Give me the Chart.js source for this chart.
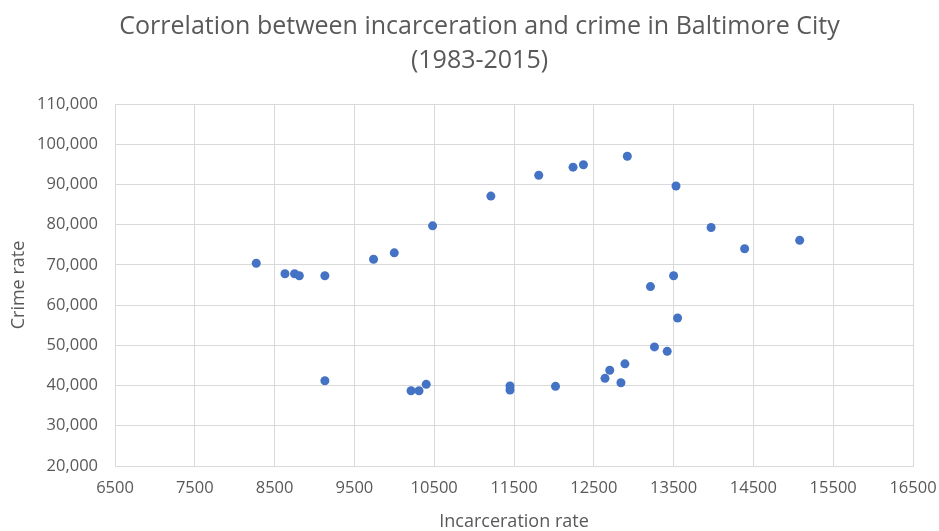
<!DOCTYPE html>
<html>
<head>
<meta charset="utf-8">
<script src="https://cdn.jsdelivr.net/npm/chart.js@4"></script>
<style>
  html, body { margin: 0; padding: 0; background: #ffffff; }
  #wrap { width: 939px; height: 531px; }
</style>
</head>
<body>
<div id="wrap"><canvas id="c" width="939" height="531"></canvas></div>
<script>
// Baltimore City, 1983-2015: incarceration rate vs. crime rate
const incarcerationRate = [
  8270, 8630, 8750, 8810, 9130, 9740, 10000, 10480, 11210, 11810, 12240,
  12370, 12920, 13530, 13970, 14390, 15080, 13500, 13210, 13550, 13260,
  13420, 12890, 12840, 12700, 12640, 9130, 10210, 10310, 10400, 11450,
  11450, 12020
];
const crimeRate = [
  70400, 67800, 67800, 67300, 67300, 71400, 73000, 79700, 87100, 92300, 94300,
  94900, 97000, 89600, 79300, 74000, 76100, 67300, 64600, 56800, 49600,
  48500, 45400, 40700, 43800, 41800, 41200, 38700, 38700, 40300, 39900,
  38900, 39800
];

const titleLines = ['Correlation between incarceration and crime in Baltimore City', '(1983-2015)'];
const xAxisTitle = 'Incarceration rate';
const yAxisTitle = 'Crime rate';
const xTicks = { min: 6500, max: 16500, step: 1000 };
const yTicks = { min: 20000, max: 110000, step: 10000 };

const points = incarcerationRate.map((x, i) => ({ x: x, y: crimeRate[i] }));

const textColor = '#595959';
const gridColor = '#d9d9d9';
const family = "'Open Sans', 'Liberation Sans', sans-serif";

// Nudge the title block to the right so it sits over the plot area
const titleShift = {
  id: 'titleShift',
  afterLayout(chart) {
    const t = chart.titleBlock;
    if (t) { t.left += 23; t.right += 23; }
  }
};

new Chart(document.getElementById('c'), {
  type: 'scatter',
  data: {
    datasets: [{
      data: points,
      backgroundColor: '#4472C4',
      borderColor: '#4472C4',
      pointRadius: 4.5,
      pointHoverRadius: 4.5,
      borderWidth: 0
    }]
  },
  plugins: [titleShift],
  options: {
    responsive: false,
    animation: false,
    layout: { padding: { top: 0, right: 26, bottom: 0, left: 0 } },
    plugins: {
      legend: { display: false },
      tooltip: { enabled: false },
      title: {
        display: true,
        text: titleLines,
        color: textColor,
        font: { family: family, size: 25, weight: 'normal', lineHeight: '34px' },
        padding: { top: 10, bottom: 26 }
      }
    },
    scales: {
      x: {
        type: 'linear',
        min: xTicks.min,
        max: xTicks.max,
        afterFit: (s) => { s.height = 65; s.paddingRight = 0; s.paddingLeft = 0; },
        ticks: {
          stepSize: xTicks.step,
          color: textColor,
          font: { family: family, size: 16.5 },
          padding: 12,
          maxRotation: 0,
          callback: (v) => String(v)
        },
        grid: { color: gridColor, lineWidth: 1, drawTicks: false },
        border: { color: gridColor },
        title: {
          display: true,
          text: xAxisTitle,
          color: textColor,
          font: { family: family, size: 18, lineHeight: '18px' },
          padding: { top: 0, bottom: 0 }
        }
      },
      y: {
        type: 'linear',
        min: yTicks.min,
        max: yTicks.max,
        afterFit: (s) => { s.width = 115; },
        ticks: {
          stepSize: yTicks.step,
          color: textColor,
          font: { family: family, size: 16.5 },
          padding: 17,
          callback: (v) => v.toLocaleString('en-US')
        },
        grid: { color: gridColor, lineWidth: 1, drawTicks: false },
        border: { color: gridColor },
        title: {
          display: true,
          text: yAxisTitle,
          color: textColor,
          font: { family: family, size: 18 },
          padding: { top: 8, bottom: 0 }
        }
      }
    }
  }
});
</script>
</body>
</html>
